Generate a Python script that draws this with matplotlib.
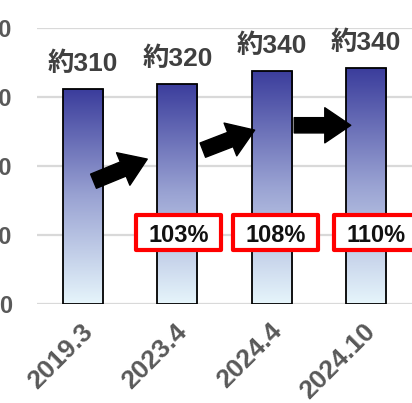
import matplotlib
matplotlib.use('Agg')
import matplotlib.pyplot as plt
import matplotlib.transforms as mtransforms
import numpy as np
from matplotlib.colors import LinearSegmentedColormap
from matplotlib.patches import Rectangle

periods = ['2019.3', '2023.4', '2024.4', '2024.10']
values = [311, 319, 338, 342]
value_labels = ['約310', '約320', '約340', '約340']
ratios = ['103%', '108%', '110%']
yticks = [0, 100, 200, 300, 400]

plt.rcParams['font.family'] = ['Liberation Sans', 'Noto Sans CJK JP', 'DejaVu Sans']

fig = plt.figure(figsize=(4.12, 4.03), dpi=100)
ax = fig.add_axes([37 / 412, 99 / 403, 375 / 412, 276 / 403])

x = np.arange(len(periods))
bars = ax.bar(x, values, width=0.425, facecolor='none', edgecolor='black',
              linewidth=1.3, zorder=3)

# vertical gradient inside every bar
cmap = LinearSegmentedColormap.from_list('barfill', ['#e6f5fb', '#9aa3d3', '#3b3d9c'])
grad = np.linspace(0, 1, 256).reshape(-1, 1)
for b in bars:
    x0, w, h = b.get_x(), b.get_width(), b.get_height()
    im = ax.imshow(grad, extent=(x0, x0 + w, 0, h), origin='lower', cmap=cmap,
                   aspect='auto', zorder=2)
    im.set_clip_path(b)

for xi, v, lab in zip(x, values, value_labels):
    ax.annotate(lab, (xi, v), xytext=(0, 13), textcoords='offset points',
                ha='center', va='baseline', fontsize=19, fontweight='bold',
                color='#404040', annotation_clip=False)

# growth arrows between bars
arrow_style = 'simple,head_width=2.3,head_length=1.7,tail_width=1.0'
arrows = [((0.11, 178), (0.68, 210)), ((1.27, 223), (1.82, 252)), ((2.24, 259), (2.84, 259))]
for start, end in arrows:
    ax.annotate('', xy=end, xytext=start,
                arrowprops=dict(arrowstyle=arrow_style, mutation_scale=11,
                                color='black', shrinkA=0, shrinkB=0), zorder=5)

# ratio boxes
box_w, box_h = 0.90, 51
for xi, r, dx in zip(x[1:], ratios, [0.016, 0.04, 0.11]):
    cx = xi + dx
    ax.add_patch(Rectangle((cx - box_w / 2, 104 - box_h / 2), box_w, box_h,
                           facecolor='white', edgecolor='#ff0000', linewidth=3,
                           joinstyle='round', zorder=6, clip_on=False))
    ax.text(cx, 90, r, ha='center', va='baseline', fontsize=17,
            fontweight='bold', color='#111111', zorder=7, clip_on=False)

ax.set_xlim(-0.49, 3.49)
ax.set_ylim(0, 400)
ax.set_yticks(yticks)
ax.set_xticks(x)
ax.set_xticklabels(periods)
ax.grid(axis='y', color='#d9d9d9', linewidth=1.6, zorder=0)
ax.set_axisbelow(True)
for s in ax.spines.values():
    s.set_visible(False)
ax.tick_params(axis='both', length=0)
ax.tick_params(axis='y', pad=18, labelsize=17, labelcolor='#595959')
ax.tick_params(axis='x', pad=17, labelsize=19, labelcolor='#595959')
for t in ax.get_yticklabels():
    t.set_fontweight('bold')
offset = mtransforms.ScaledTranslation(6 / 100, 0, fig.dpi_scale_trans)
for t in ax.get_xticklabels():
    t.set_fontweight('bold')
    t.set_rotation(45)
    t.set_ha('right')
    t.set_va('center')
    t.set_rotation_mode('anchor')
    t.set_transform(t.get_transform() + offset)

fig.savefig('out.png', dpi=100)
